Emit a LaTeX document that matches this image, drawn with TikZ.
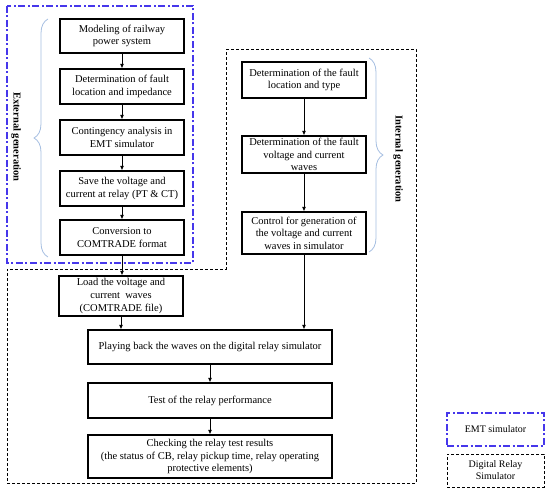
\documentclass[tikz,border=0pt]{standalone}
\usepackage{fontspec}
\setmainfont{Liberation Serif}
\usetikzlibrary{arrows.meta,decorations.pathreplacing}
\definecolor{emtblue}{RGB}{70,55,235}
\definecolor{bracecol}{RGB}{165,190,225}
\tikzset{
  stepbox/.style={draw=black, line width=1.2pt, align=center, inner sep=0pt,
    font=\fontsize{10.5}{12.6}\selectfont},
  flow/.style={-{Latex[length=4.5pt,width=4pt]}, line width=1pt},
  emtline/.style={draw=emtblue, line width=1.3pt, dash pattern=on 7pt off 2.5pt on 2pt off 2.5pt},
  drsline/.style={draw=black, line width=0.9pt, dash pattern=on 3pt off 2pt},
  bracel/.style={draw=bracecol, line width=0.8pt, decorate, decoration={brace, amplitude=14pt}},
  sidelabel/.style={font=\bfseries\fontsize{10.5}{12.6}\selectfont, rotate=-90},
  legtext/.style={align=center, font=\fontsize{10}{12}\selectfont}
}
\begin{document}
\begin{tikzpicture}[x=1pt,y=-1pt]
\useasboundingbox (0,0) rectangle (550,492);
% frames
\draw[emtline] (7,6) rectangle (193,263);
\draw[drsline] (226,49) -- (416,49) -- (416,483) -- (7,483) -- (7,269) -- (226,269) -- cycle;
% left column
\node[stepbox, minimum width=124pt, minimum height=34pt] (m1) at (122,36) {Modeling of railway\\power system};
\node[stepbox, minimum width=124pt, minimum height=35pt] (m2) at (122,86.5) {Determination of fault\\location and impedance};
\node[stepbox, minimum width=124pt, minimum height=35pt] (m3) at (122,137.5) {Contingency analysis in\\EMT simulator};
\node[stepbox, minimum width=124pt, minimum height=35pt] (m4) at (122,188.5) {Save the voltage and\\current at relay (PT \& CT)};
\node[stepbox, minimum width=124pt, minimum height=35pt] (m5) at (122,237.5) {Conversion to\\COMTRADE format};
\node[stepbox, minimum width=124pt, minimum height=40pt] (load) at (121,296) {Load the voltage and\\current\ \ waves\\(COMTRADE file)};
% right column
\node[stepbox, minimum width=124pt, minimum height=36pt] (r1) at (304,80) {Determination of the fault\\location and type};
\node[stepbox, minimum width=124pt, minimum height=37pt] (r2) at (304,154.5) {Determination of the fault\\voltage and current\\waves};
\node[stepbox, minimum width=124pt, minimum height=42pt] (r3) at (304,233) {Control for generation of\\the voltage and current\\waves in simulator};
% bottom
\node[stepbox, minimum width=244pt, minimum height=34pt] (play) at (210,347) {Playing back the waves on the digital relay simulator};
\node[stepbox, minimum width=244pt, minimum height=35pt] (test) at (210,400.5) {Test of the relay performance};
\node[stepbox, minimum width=244pt, minimum height=43pt] (check) at (210,456.5) {Checking the relay test results\\(the status of CB, relay pickup time, relay operating\\protective elements)};
% arrows
\draw[flow] (m1) -- (m2);
\draw[flow] (m2) -- (m3);
\draw[flow] (m3) -- (m4);
\draw[flow] (m4) -- (m5);
\draw[flow] (m5) -- (m5.south |- load.north);
\draw[flow] (r1) -- (r2);
\draw[flow] (r2) -- (r3);
\draw[flow] (load.south) -- (load.south |- play.north);
\draw[flow] (r3.south) -- (r3.south |- play.north);
\draw[flow] (play) -- (test);
\draw[flow] (test) -- (check);
% braces
\coordinate (lb1) at (48,257);
\coordinate (lb2) at (48,19);
\draw[bracel] (lb1) -- (lb2);
\coordinate (rb1) at (369,58);
\coordinate (rb2) at (369,252);
\draw[bracel] (rb1) -- (rb2);
\node[sidelabel] (extlab) at (16,137) {External generation};
\node[sidelabel] (intlab) at (398,159) {Internal generation};
% legend
\node[emtline, minimum width=97pt, minimum height=33pt, legtext] (legemt) at (495.5,429.5) {EMT simulator};
\node[drsline, minimum width=97pt, minimum height=33pt, legtext] (legdrs) at (495.5,470.5) {Digital Relay\\Simulator};
\end{tikzpicture}
\end{document}
